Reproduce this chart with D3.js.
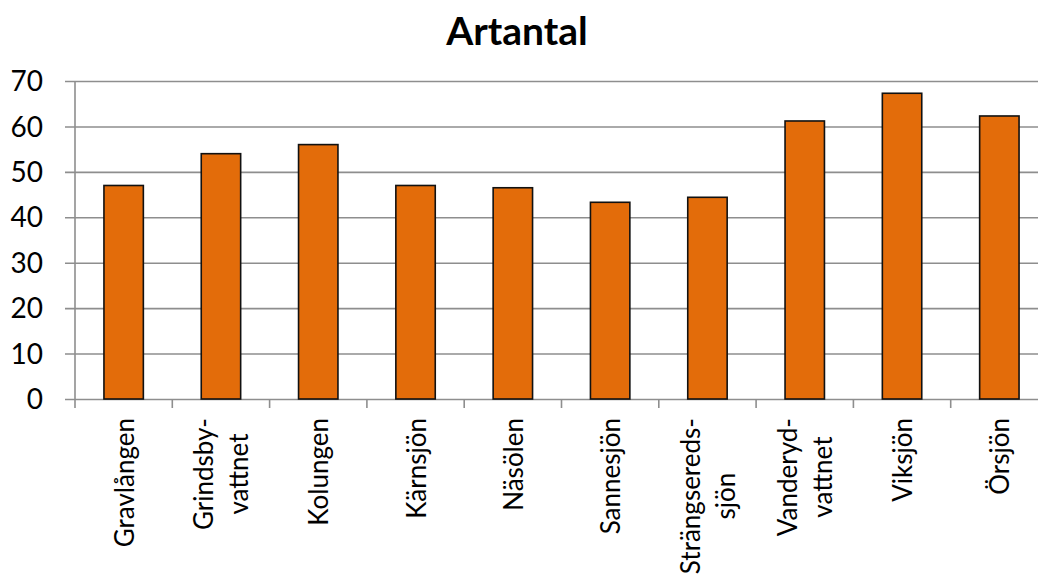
<!DOCTYPE html>
<html>
<head>
<meta charset="utf-8">
<script src="https://cdn.jsdelivr.net/npm/d3@7"></script>
<style>
  html, body { margin: 0; padding: 0; background: #fff; overflow: hidden; }
  svg { display: block; font-family: Lato, "Noto Sans", sans-serif; }
</style>
</head>
<body>
<svg id="chart" width="1038" height="576"></svg>
<script>
// Species count per lake
const lakes = [
  ["Gravlången"],
  ["Grindsby-", "vattnet"],
  ["Kolungen"],
  ["Kärnsjön"],
  ["Näsölen"],
  ["Sannesjön"],
  ["Strängsereds-", "sjön"],
  ["Vanderyd-", "vattnet"],
  ["Viksjön"],
  ["Örsjön"]
];
const artantal = [47, 54, 56, 47, 46.5, 43.3, 44.4, 61.2, 67.3, 62.3];
const yTicks = [0, 10, 20, 30, 40, 50, 60, 70];
const title = "Artantal";

const svg = d3.select("#chart");
const plotLeft = 75, plotRight = 1048, plotTop = 81, plotBottom = 399;

const x = d3.scaleBand()
  .domain(d3.range(lakes.length))
  .range([plotLeft, plotRight])
  .paddingInner(0.595)
  .paddingOuter(0.2975);

const y = d3.scaleLinear().domain([0, 70]).range([plotBottom, plotTop]);

// Horizontal gridlines with outside tick stubs
const grid = svg.append("g")
  .attr("transform", `translate(${plotLeft},0)`)
  .call(d3.axisLeft(y).tickValues(yTicks).tickSize(-(1038 - plotLeft)).tickFormat(""));
grid.select(".domain").remove();
grid.selectAll(".tick line")
  .attr("x1", -10)
  .attr("stroke", "#8e8e8e")
  .attr("stroke-width", 1.6);

// Y tick labels
svg.append("g").selectAll("text")
  .data(yTicks)
  .join("text")
  .attr("x", 43)
  .attr("y", d => y(d))
  .attr("dy", "0.36em")
  .attr("text-anchor", "end")
  .attr("font-size", 28)
  .attr("fill", "#000")
  .text(d => d);

// Y axis line
svg.append("line")
  .attr("x1", plotLeft).attr("x2", plotLeft)
  .attr("y1", plotTop).attr("y2", plotBottom)
  .attr("stroke", "#8e8e8e").attr("stroke-width", 1.6);

// X axis with category separator ticks
const step = x.step();
const sepPositions = d3.range(lakes.length + 1).map(i => plotLeft + i * step);
svg.append("g").selectAll("line")
  .data(sepPositions)
  .join("line")
  .attr("x1", d => d).attr("x2", d => d)
  .attr("y1", plotBottom).attr("y2", plotBottom + 9)
  .attr("stroke", "#8e8e8e").attr("stroke-width", 1.6);

// Bars
svg.append("g").selectAll("rect")
  .data(artantal)
  .join("rect")
  .attr("x", (d, i) => x(i))
  .attr("width", x.bandwidth())
  .attr("y", d => y(d))
  .attr("height", d => plotBottom - y(d))
  .attr("fill", "#E36C0A")
  .attr("stroke", "#111")
  .attr("stroke-width", 1.6);

// Rotated category labels
const labelTop = 418;
const lineGap = 35;
lakes.forEach((lines, i) => {
  const cx = x(i) + x.bandwidth() / 2;
  const g = svg.append("g").attr("transform", `translate(${cx},${labelTop}) rotate(-90)`);
  const texts = lines.map((t, k) => g.append("text")
    .attr("font-size", 26)
    .attr("fill", "#000")
    .attr("y", 10 + (k - (lines.length - 1) / 2) * lineGap)
    .text(t));
  const maxLen = d3.max(texts, t => t.node().getComputedTextLength());
  texts.forEach(t => t.attr("text-anchor", "middle").attr("x", -maxLen / 2));
});

// Title
svg.append("text")
  .attr("x", 517)
  .attr("y", 45)
  .attr("text-anchor", "middle")
  .attr("font-size", 39)
  .attr("font-weight", "bold")
  .attr("fill", "#000")
  .text(title);
</script>
</body>
</html>
